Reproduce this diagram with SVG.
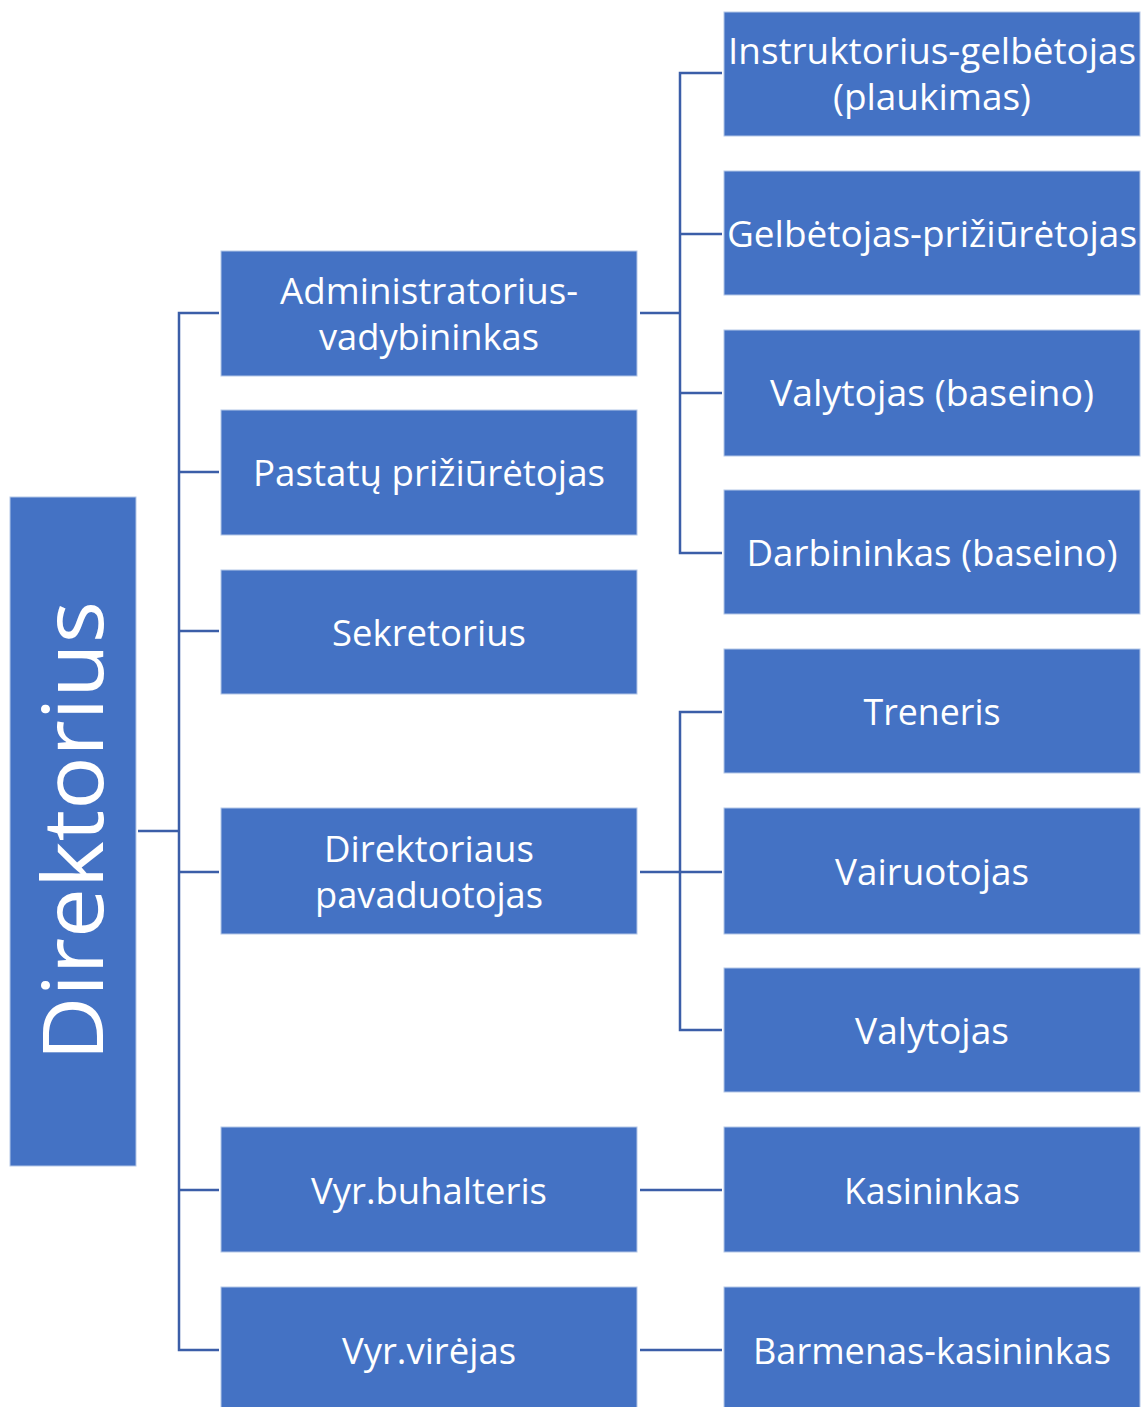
<svg xmlns="http://www.w3.org/2000/svg" width="1141" height="1407" viewBox="0 0 1141 1407">
<style>
.box{fill:#4472C4;stroke:#B4C7E7;stroke-width:1}
.t{fill:#ffffff;font-family:"Open Sans","Noto Sans",sans-serif;font-size:36px;text-anchor:middle;dominant-baseline:central}
.c{fill:none;stroke:#3B5EA8;stroke-width:2.5}
</style>
<rect width="1141" height="1407" fill="#ffffff"/>
<g id="connectors">
<polyline class="c" points="138,831 179,831"/>
<polyline class="c" points="219,313 179,313 179,1350 219,1350"/>
<line class="c" x1="179" y1="472" x2="219" y2="472"/>
<line class="c" x1="179" y1="631" x2="219" y2="631"/>
<line class="c" x1="179" y1="872" x2="219" y2="872"/>
<line class="c" x1="179" y1="1190" x2="219" y2="1190"/>
<line class="c" x1="640" y1="313" x2="680" y2="313"/>
<polyline class="c" points="722,73 680,73 680,553 722,553"/>
<line class="c" x1="680" y1="234" x2="722" y2="234"/>
<line class="c" x1="680" y1="393" x2="722" y2="393"/>
<line class="c" x1="640" y1="872" x2="680" y2="872"/>
<polyline class="c" points="722,712 680,712 680,1030 722,1030"/>
<line class="c" x1="680" y1="872" x2="722" y2="872"/>
<line class="c" x1="640" y1="1190" x2="722" y2="1190"/>
<line class="c" x1="640" y1="1350" x2="722" y2="1350"/>
</g>
<g id="direktorius"><rect class="box" x="10" y="497" width="126" height="669"/><text class="t" transform="translate(70,831) rotate(-90)" style="font-size:84px" textLength="460" lengthAdjust="spacingAndGlyphs">Direktorius</text></g>
<g id="admin"><rect class="box" x="221" y="251" width="416" height="125"/><text class="t" x="429" y="290" textLength="298" lengthAdjust="spacingAndGlyphs">Administratorius-</text><text class="t" x="429" y="336" textLength="220" lengthAdjust="spacingAndGlyphs">vadybininkas</text></g>
<g id="pastatu"><rect class="box" x="221" y="410" width="416" height="125"/><text class="t" x="429" y="472" textLength="352" lengthAdjust="spacingAndGlyphs">Pastatų prižiūrėtojas</text></g>
<g id="sekretorius"><rect class="box" x="221" y="570" width="416" height="124"/><text class="t" x="429" y="632" textLength="194" lengthAdjust="spacingAndGlyphs">Sekretorius</text></g>
<g id="pavaduotojas"><rect class="box" x="221" y="808" width="416" height="126"/><text class="t" x="429" y="848" textLength="210" lengthAdjust="spacingAndGlyphs">Direktoriaus</text><text class="t" x="429" y="894" textLength="228" lengthAdjust="spacingAndGlyphs">pavaduotojas</text></g>
<g id="buhalteris"><rect class="box" x="221" y="1127" width="416" height="125"/><text class="t" x="429" y="1190" textLength="236" lengthAdjust="spacingAndGlyphs">Vyr.buhalteris</text></g>
<g id="virejas"><rect class="box" x="221" y="1287" width="416" height="125"/><text class="t" x="429" y="1350" textLength="174" lengthAdjust="spacingAndGlyphs">Vyr.virėjas</text></g>
<g id="instruktorius"><rect class="box" x="724" y="12" width="416" height="124"/><text class="t" x="932" y="50" textLength="408" lengthAdjust="spacingAndGlyphs">Instruktorius-gelbėtojas</text><text class="t" x="932" y="96" textLength="198" lengthAdjust="spacingAndGlyphs">(plaukimas)</text></g>
<g id="gelbetojas"><rect class="box" x="724" y="171" width="416" height="124"/><text class="t" x="932" y="233" textLength="410" lengthAdjust="spacingAndGlyphs">Gelbėtojas-prižiūrėtojas</text></g>
<g id="valytojas-baseino"><rect class="box" x="724" y="330" width="416" height="126"/><text class="t" x="932" y="392" textLength="324" lengthAdjust="spacingAndGlyphs">Valytojas (baseino)</text></g>
<g id="darbininkas"><rect class="box" x="724" y="490" width="416" height="124"/><text class="t" x="932" y="552" textLength="371" lengthAdjust="spacingAndGlyphs">Darbininkas (baseino)</text></g>
<g id="treneris"><rect class="box" x="724" y="649" width="416" height="124"/><text class="t" x="932" y="711" textLength="137" lengthAdjust="spacingAndGlyphs">Treneris</text></g>
<g id="vairuotojas"><rect class="box" x="724" y="808" width="416" height="126"/><text class="t" x="932" y="871" textLength="194" lengthAdjust="spacingAndGlyphs">Vairuotojas</text></g>
<g id="valytojas"><rect class="box" x="724" y="968" width="416" height="124"/><text class="t" x="932" y="1030" textLength="154" lengthAdjust="spacingAndGlyphs">Valytojas</text></g>
<g id="kasininkas"><rect class="box" x="724" y="1127" width="416" height="125"/><text class="t" x="932" y="1190" textLength="176" lengthAdjust="spacingAndGlyphs">Kasininkas</text></g>
<g id="barmenas"><rect class="box" x="724" y="1287" width="416" height="125"/><text class="t" x="932" y="1350" textLength="358" lengthAdjust="spacingAndGlyphs">Barmenas-kasininkas</text></g>
</svg>
